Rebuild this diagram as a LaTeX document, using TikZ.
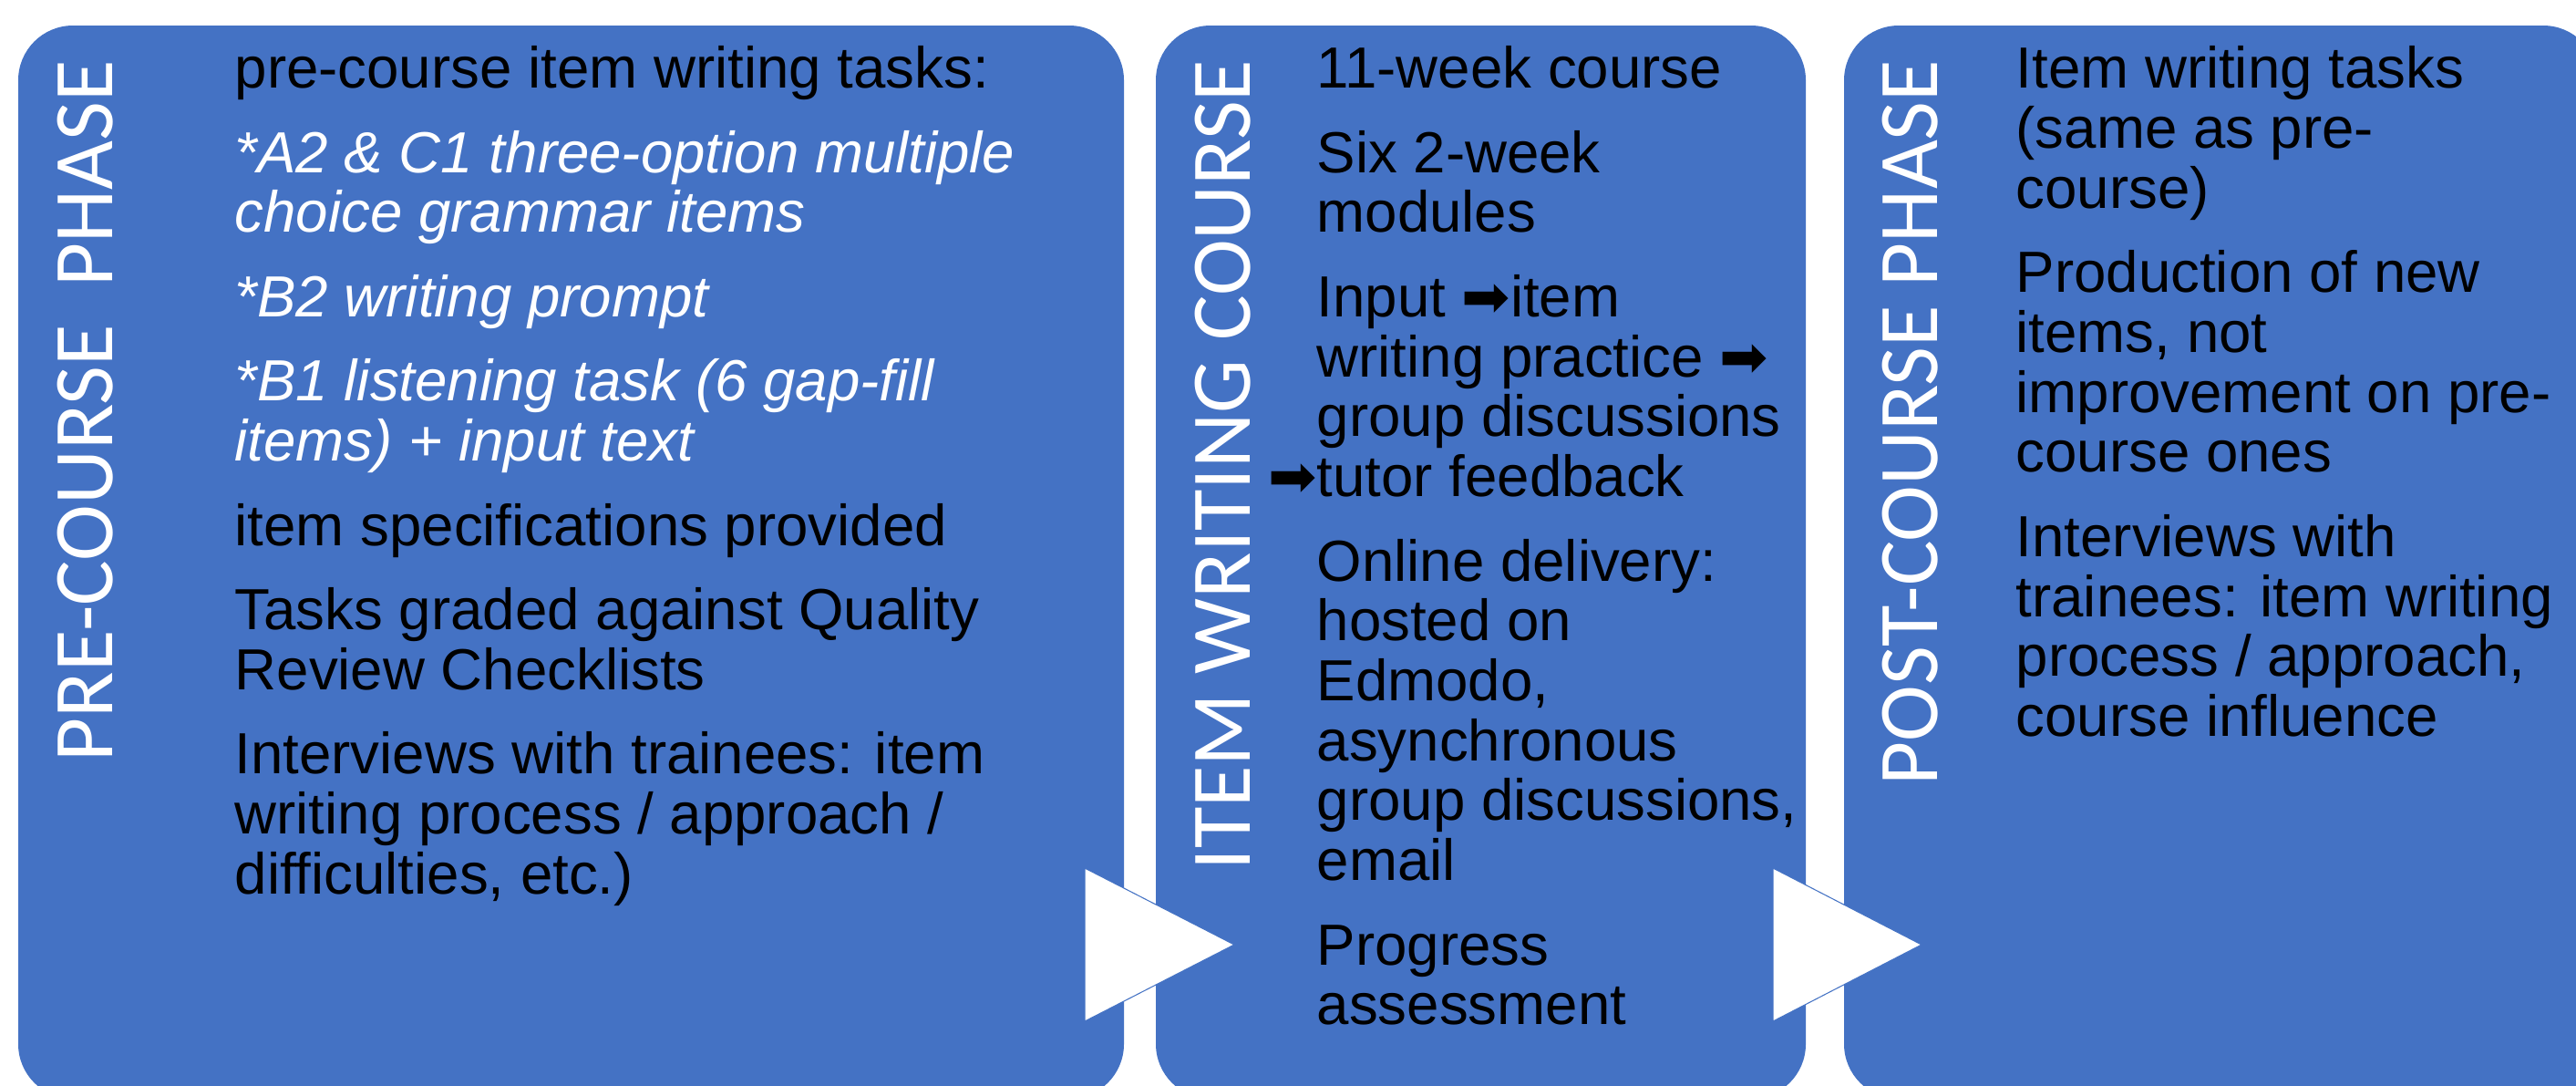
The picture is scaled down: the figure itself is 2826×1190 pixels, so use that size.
\documentclass[tikz,border=0pt]{standalone}
\usepackage{fontspec}
\setmainfont{Liberation Sans}
\newfontfamily\phasefont{Carlito}
\newfontfamily\arrowfont{DejaVu Sans}
\usetikzlibrary{positioning}
\definecolor{phaseblue}{HTML}{4472C4}
\newcommand{\subtask}[1]{\textcolor{white}{\textit{#1}}}
\newcommand{\nextstep}{{\arrowfont ➡}}

\tikzset{
  phasebox/.style={fill=phaseblue, rounded corners=6mm},
  chevron/.style={fill=white, draw=phaseblue, line width=0.3pt},
  phaselabel/.style={rotate=90, anchor=base east, inner sep=0pt, text=white,
    font=\phasefont\fontsize{26.5pt}{30pt}\selectfont},
  itemtext/.style={anchor=north west, align=left, inner sep=0pt,
    font=\fontsize{18.1pt}{18.7pt}\selectfont},
}

\begin{document}
\begin{tikzpicture}[x=0.1mm, y=-0.1mm]
\useasboundingbox (0,0) rectangle (2826,1190);
\clip (0,0) rectangle (2826,1190);
\fill[white] (0,0) rectangle (2826,1190);

% the three phases
\fill[phasebox] (20,28) rectangle (1233,1205);
\fill[phasebox] (1268,28) rectangle (1981,1205);
\fill[phasebox] (2023,28) rectangle (2850,1205);

% chevrons between phases
\filldraw[chevron] (1190,952) -- (1354,1036) -- (1190,1120) -- cycle;
\filldraw[chevron] (1945,952) -- (2108,1036) -- (1945,1120) -- cycle;

% vertical titles
\node[phaselabel] (prelabel) at (123,65) {PRE-COURSE~~PHASE};
\node[phaselabel] (courselabel) at (1371,65) {ITEM WRITING COURSE};
\node[phaselabel] (postlabel) at (2125,65) {POST-COURSE PHASE};

% contents
\node[itemtext] (pretext) at (257,50) {%
pre-course item writing tasks:\\[7.6pt]
\subtask{*A2 \& C1 three-option multiple}\\
\subtask{choice grammar items}\\[7.6pt]
\subtask{*B2 writing prompt}\\[7.6pt]
\subtask{*B1 listening task (6 gap-fill}\\
\subtask{items) + input text}\\[7.6pt]
item specifications provided\\[7.6pt]
Tasks graded against Quality\\
Review Checklists\\[7.6pt]
Interviews with trainees: item\\
writing process / approach /\\
difficulties, etc.)};

\node[itemtext] (coursetext) at (1444,50) {%
11-week course\\[7.6pt]
Six 2-week\\
modules\\[7.6pt]
Input \nextstep item\\
writing practice \nextstep\\
group discussions\\
\llap{\nextstep}tutor feedback\\[7.6pt]
Online delivery:\\
hosted on\\
Edmodo,\\
asynchronous\\
group discussions,\\
email\\[7.6pt]
Progress\\
assessment};

\node[itemtext] (posttext) at (2211,50) {%
Item writing tasks\\
(same as pre-\\
course)\\[7.6pt]
Production of new\\
items, not\\
improvement on pre-\\
course ones\\[7.6pt]
Interviews with\\
trainees: item writing\\
process / approach,\\
course influence};
\end{tikzpicture}
\end{document}
